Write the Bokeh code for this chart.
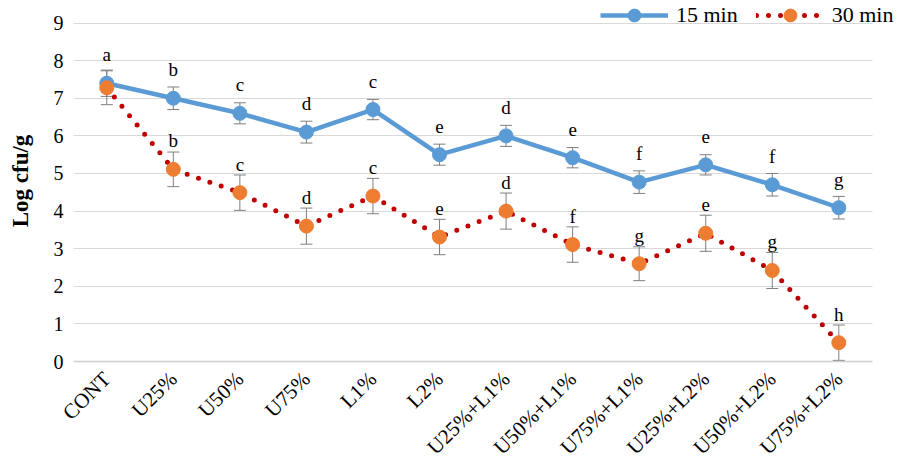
import math
from bokeh.plotting import figure
from bokeh.models import (ColumnDataSource, Range1d, FixedTicker, Whisker, TeeHead,
                          Legend, LegendItem, LabelSet)
from bokeh.embed import file_html
from bokeh.resources import INLINE

categories = ["CONT", "U25%", "U50%", "U75%", "L1%", "L2%", "U25%+L1%", "U50%+L1%",
              "U75%+L1%", "U25%+L2%", "U50%+L2%", "U75%+L2%"]
mean_15 = [7.40, 7.00, 6.60, 6.10, 6.70, 5.50, 6.00, 5.42, 4.77, 5.23, 4.70, 4.09]
err_15 = [0.35, 0.30, 0.28, 0.29, 0.27, 0.28, 0.28, 0.27, 0.30, 0.27, 0.30, 0.30]
mean_30 = [7.28, 5.11, 4.49, 3.60, 4.40, 3.31, 4.00, 3.11, 2.60, 3.41, 2.42, 0.50]
err_30 = [0.45, 0.46, 0.47, 0.48, 0.47, 0.47, 0.48, 0.47, 0.45, 0.48, 0.48, 0.47]
letters_15 = ["a", "b", "c", "d", "c", "e", "d", "e", "f", "e", "f", "g"]
letters_30 = ["", "b", "c", "d", "c", "e", "d", "f", "g", "e", "g", "h"]
y_ticks = [0, 1, 2, 3, 4, 5, 6, 7, 8, 9]

FONT = "Liberation Serif"
BLUE = "#5B9BD5"
ORANGE = "#ED7D31"
RED = "#C00000"
GRAY = "#7F7F7F"

xpos = list(range(len(categories)))

src15 = ColumnDataSource(dict(x=xpos, y=mean_15,
                              up=[m + e for m, e in zip(mean_15, err_15)],
                              lo=[m - e for m, e in zip(mean_15, err_15)],
                              lab=letters_15))
src30 = ColumnDataSource(dict(x=xpos, y=mean_30,
                              up=[m + e for m, e in zip(mean_30, err_30)],
                              lo=[m - e for m, e in zip(mean_30, err_30)],
                              lab=letters_30))

p = figure(width=898, height=471, x_range=Range1d(-0.5, 11.897), y_range=Range1d(0, 9.60),
           output_backend="svg", toolbar_location=None,
           min_border_left=73, min_border_right=0, min_border_top=0, min_border_bottom=110)
p.outline_line_color = None
p.background_fill_color = "white"
p.border_fill_color = "white"

# grid
p.xgrid.grid_line_color = None
p.ygrid.grid_line_color = "#D9D9D9"
p.ygrid.grid_line_width = 1
p.ygrid.cross_bounds = (-0.5, len(categories) - 0.5)
p.yaxis.ticker = FixedTicker(ticks=y_ticks)

# axes
p.yaxis.axis_line_color = None
p.yaxis.major_tick_line_color = None
p.yaxis.minor_tick_line_color = None
p.yaxis.major_label_text_font = FONT
p.yaxis.major_label_text_font_size = "20px"
p.yaxis.major_label_text_color = "black"
p.yaxis.major_label_standoff = 4
p.yaxis.axis_label = "Log cfu/g"
p.yaxis.axis_label_text_font = FONT
p.yaxis.axis_label_text_font_size = "23px"
p.yaxis.axis_label_text_font_style = "bold"
p.yaxis.axis_label_text_color = "black"
p.yaxis.axis_label_standoff = 18

p.xaxis.ticker = FixedTicker(ticks=xpos)
p.xaxis.major_label_overrides = {i: c for i, c in zip(xpos, categories)}
p.xaxis.bounds = (-0.5, len(categories) - 0.5)
p.xaxis.axis_line_color = "#D0D0D0"
p.xaxis.axis_line_width = 1.5
p.xaxis.major_tick_line_color = None
p.xaxis.minor_tick_line_color = None
p.xaxis.major_label_orientation = math.pi / 4
p.xaxis.major_label_text_font = FONT
p.xaxis.major_label_text_font_size = "21px"
p.xaxis.major_label_text_color = "black"
p.xaxis.major_label_standoff = 8

# 15 min series
l15 = p.line("x", "y", source=src15, line_color=BLUE, line_width=4.5)
w15 = Whisker(base="x", upper="up", lower="lo", source=src15, line_color=GRAY, line_width=1,
              upper_head=TeeHead(size=12, line_color=GRAY, line_width=1),
              lower_head=TeeHead(size=12, line_color=GRAY, line_width=1))
p.add_layout(w15)
c15 = p.scatter("x", "y", source=src15, size=14, fill_color=BLUE, line_color=BLUE)

# 30 min series
l30 = p.line("x", "y", source=src30, line_color=RED, line_width=5, line_dash="0 12",
             line_cap="round")
w30 = Whisker(base="x", upper="up", lower="lo", source=src30, line_color=GRAY, line_width=1,
              upper_head=TeeHead(size=12, line_color=GRAY, line_width=1),
              lower_head=TeeHead(size=12, line_color=GRAY, line_width=1))
p.add_layout(w30)
c30 = p.scatter("x", "y", source=src30, size=14, fill_color=ORANGE, line_color=ORANGE)

for src in (src15, src30):
    p.add_layout(LabelSet(x="x", y="y", text="lab", source=src, y_offset=22,
                          text_align="center", text_baseline="alphabetic",
                          text_font=FONT, text_font_size="19px", text_color="black"))

legend = Legend(items=[LegendItem(label="15 min", renderers=[l15, c15]),
                       LegendItem(label="30 min", renderers=[l30, c30])],
                orientation="horizontal", location=(527, 330),
                glyph_width=68, glyph_height=32, label_standoff=8, spacing=18,
                padding=0, margin=0, border_line_color=None, background_fill_alpha=0,
                label_text_font=FONT, label_text_font_size="22px", label_text_color="black",
                label_height=32)
p.add_layout(legend)

open("out.html", "w").write(file_html(p, INLINE))
